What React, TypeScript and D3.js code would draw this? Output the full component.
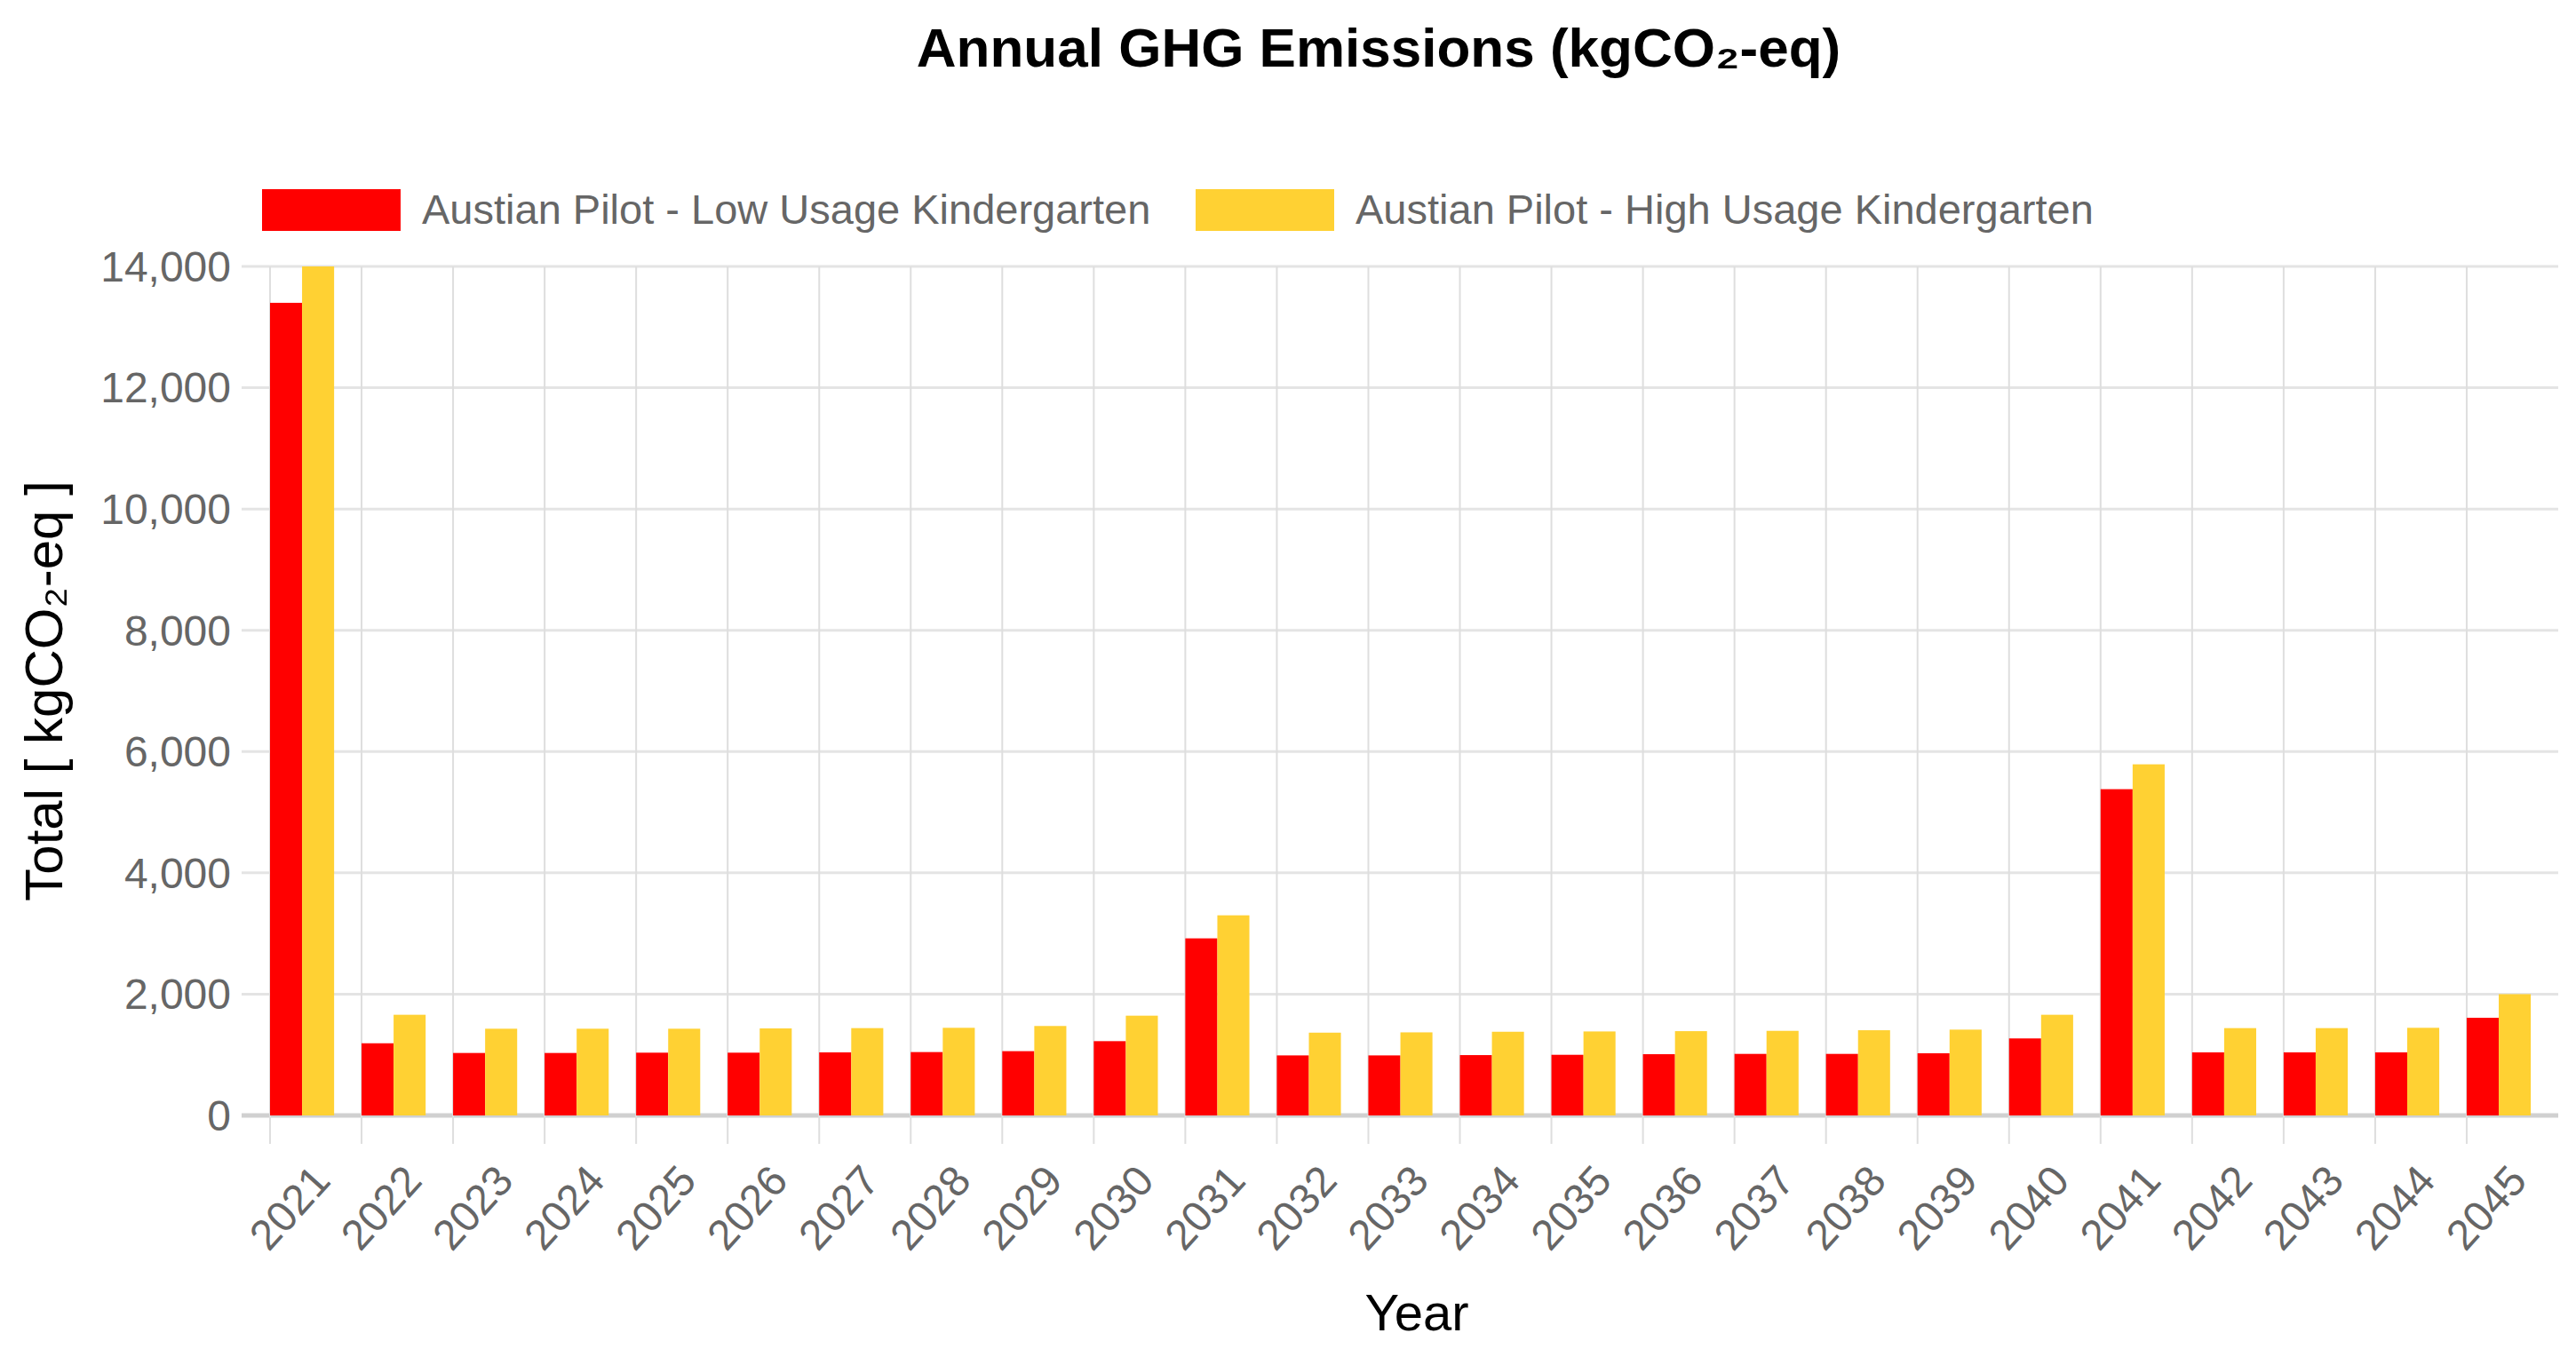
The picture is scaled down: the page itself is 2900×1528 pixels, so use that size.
import React from 'react';
import * as d3 from 'd3';

const years = [
  '2021', '2022', '2023', '2024', '2025', '2026', '2027', '2028', '2029', '2030',
  '2031', '2032', '2033', '2034', '2035', '2036', '2037', '2038', '2039', '2040',
  '2041', '2042', '2043', '2044', '2045',
];

const lowUsage = [
  13400, 1190, 1030, 1030, 1035, 1035, 1040, 1045, 1060, 1225,
  2920, 990, 990, 995, 1000, 1010, 1015, 1015, 1025, 1270,
  5380, 1040, 1040, 1040, 1610,
];

const highUsage = [
  14000, 1660, 1430, 1430, 1430, 1435, 1440, 1445, 1475, 1645,
  3300, 1365, 1370, 1380, 1385, 1390, 1395, 1405, 1415, 1660,
  5790, 1440, 1440, 1445, 2000,
];

const seriesNames = [
  'Austian Pilot - Low Usage Kindergarten',
  'Austian Pilot - High Usage Kindergarten',
];
const seriesColors = ['#ff0000', '#ffd133'];
const yTicks = [0, 2000, 4000, 6000, 8000, 10000, 12000, 14000];

const W = 2900;
const H = 1528;
const FONT = '"Liberation Sans", Arial, Helvetica, sans-serif';

export default function App() {
  const left = 304;
  const right = 2880;
  const top = 300;
  const bottom = 1256;
  const tickLen = 32;

  const x = d3.scaleBand<string>().domain(years).range([left, right]).padding(0);
  const bw = x.bandwidth();
  // bars sit in the first 70% of each category, as in the source
  const xs = d3.scaleBand<number>().domain([0, 1]).range([0, bw * 0.7]);
  const y = d3.scaleLinear().domain([0, 14000]).range([bottom, top]);
  const fmt = d3.format(',');

  const series = [lowUsage, highUsage];

  return (
    <div style={{ position: 'absolute', left: 0, top: 0 }}>
      <svg width={W} height={H} style={{ display: 'block', background: '#fff' }} fontFamily={FONT}>
        {/* title */}
        <text x={1552} y={75} textAnchor="middle" fontSize={62} fontWeight="bold" fill="#000">
          Annual GHG Emissions (kgCO₂-eq)
        </text>

        {/* legend */}
        {seriesNames.map((name, i) => {
          const lx = i === 0 ? 295 : 1346;
          return (
            <g key={name}>
              <rect x={lx} y={213} width={156} height={47} fill={seriesColors[i]} />
              <text x={lx + 180} y={252} fontSize={47} fill="#666">
                {name}
              </text>
            </g>
          );
        })}

        {/* horizontal grid */}
        {yTicks.map((t) => (
          <g key={t}>
            <line
              x1={left - tickLen}
              x2={right}
              y1={y(t)}
              y2={y(t)}
              stroke={t === 0 ? '#d0d0d0' : '#e4e4e4'}
              strokeWidth={t === 0 ? 5 : 3}
            />
            <text x={260} y={y(t)} dy="0.35em" textAnchor="end" fontSize={48} fill="#666">
              {fmt(t)}
            </text>
          </g>
        ))}

        {/* vertical grid */}
        {years.map((yr) => (
          <line
            key={yr}
            x1={x(yr)!}
            x2={x(yr)!}
            y1={top}
            y2={bottom + tickLen}
            stroke="#dedede"
            strokeWidth={2}
          />
        ))}

        {/* bars */}
        {series.map((vals, si) => (
          <g key={si} fill={seriesColors[si]}>
            {vals.map((v, i) => (
              <rect
                key={years[i]}
                x={x(years[i])! + xs(si)!}
                y={y(v)}
                width={xs.bandwidth()}
                height={bottom - y(v)}
              />
            ))}
          </g>
        ))}

        {/* x tick labels */}
        {years.map((yr) => {
          const cx = x(yr)! + bw / 2;
          return (
            <text
              key={yr}
              transform={`translate(${cx + 6},${1320}) rotate(-48)`}
              textAnchor="end"
              dy="0.35em"
              fontSize={48}
              fill="#666"
            >
              {yr}
            </text>
          );
        })}

        {/* axis titles */}
        <text x={1595} y={1498} textAnchor="middle" fontSize={58} fill="#000">
          Year
        </text>
        <text
          transform={`translate(70,${(top + bottom) / 2}) rotate(-90)`}
          textAnchor="middle"
          fontSize={60}
          fill="#000"
        >
          Total [ kgCO₂-eq ]
        </text>
      </svg>
    </div>
  );
}
